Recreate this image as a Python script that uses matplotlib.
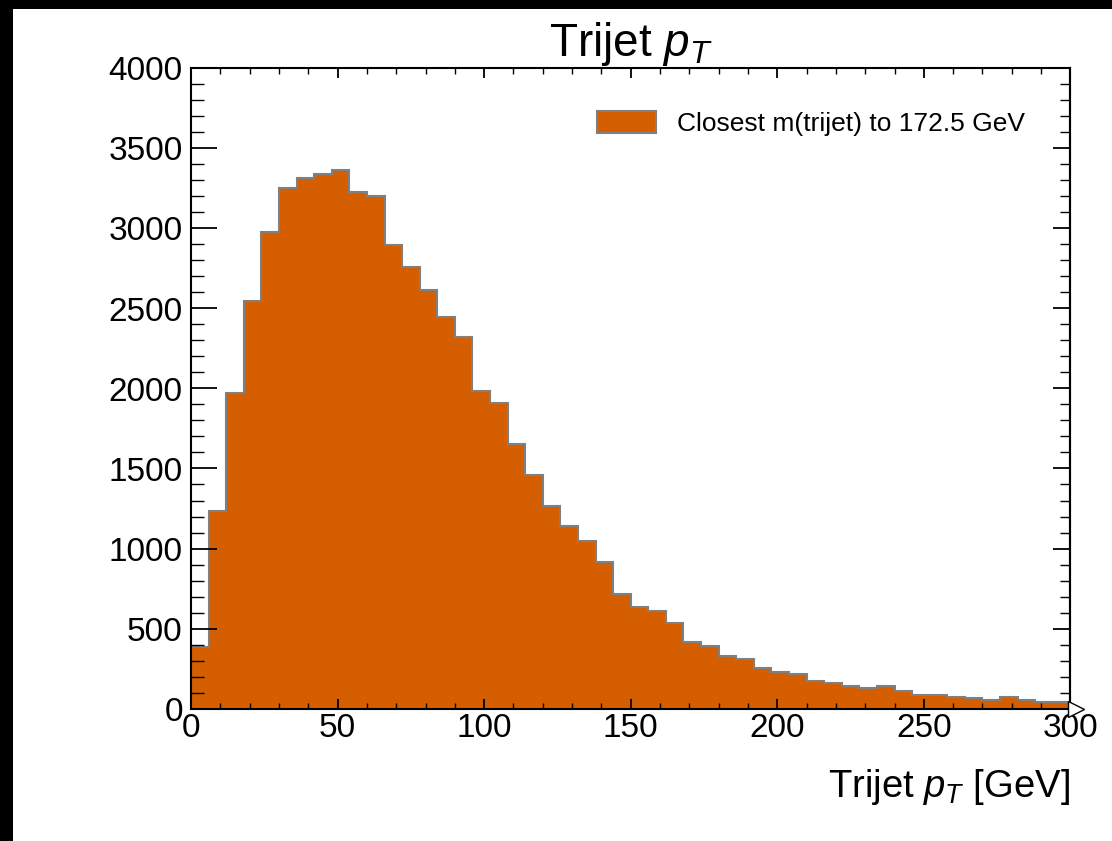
#!/usr/bin/env python3
"""Trijet pT histogram, closest trijet mass to the top mass."""

import numpy as np
import matplotlib
matplotlib.use("Agg")
import matplotlib.pyplot as plt
from matplotlib.patches import Rectangle

plt.rcParams["font.family"] = ["Liberation Sans", "DejaVu Sans"]
plt.rcParams["mathtext.fontset"] = "custom"
plt.rcParams["mathtext.rm"] = "Liberation Sans"
plt.rcParams["mathtext.it"] = "Liberation Sans:italic"

# bin edges in GeV (50 bins of 6 GeV)
bin_lo = 0
bin_hi = 300
bin_width = 6

counts = [
    384, 1232, 1973, 2547, 2973, 3252, 3312, 3337, 3361, 3225,
    3200, 2895, 2759, 2614, 2446, 2321, 1982, 1906, 1654, 1462,
    1263, 1141, 1045, 915, 714, 638, 609, 533, 420, 393,
    333, 314, 254, 233, 218, 173, 164, 141, 133, 144,
    114, 89, 89, 75, 67, 56, 77, 56, 46, 46,
]
label = "Closest m(trijet) to 172.5 GeV"

edges = np.arange(bin_lo, bin_hi + bin_width, bin_width)

fig = plt.figure(figsize=(11.124, 8.414), dpi=100)
ax = fig.add_axes([0.1718, 0.157, 0.7904, 0.7621])

ax.stairs(counts, edges, fill=True, facecolor="#D55E00", edgecolor="#808080",
          linewidth=1.5, label=label)

ax.set_xlim(bin_lo, bin_hi)
ax.set_ylim(0, 4000)
ax.set_xticks(np.arange(0, 301, 50))
ax.set_yticks(np.arange(0, 4001, 500))
ax.set_xticks(np.arange(0, 301, 10), minor=True)
ax.set_yticks(np.arange(0, 4001, 100), minor=True)

for s in ax.spines.values():
    s.set_linewidth(1.5)

ax.tick_params(axis="x", which="major", direction="in", top=True, length=7,
               width=1.3, labelsize=24, pad=3)
ax.tick_params(axis="x", which="minor", direction="in", top=True, length=4,
               width=1.0)
ax.tick_params(axis="y", which="major", direction="in", right=False, length=19,
               width=1.3, labelsize=24, pad=6)
ax.tick_params(axis="y", which="minor", direction="in", right=False, length=9,
               width=1.0)

# right side ticks are shorter in the reference
sec = ax.secondary_yaxis("right")
sec.set_yticks(np.arange(0, 4001, 500))
sec.set_yticks(np.arange(0, 4001, 100), minor=True)
sec.tick_params(which="major", direction="in", length=12, width=1.3,
                labelright=False)
sec.tick_params(which="minor", direction="in", length=7, width=1.0)
sec.spines["right"].set_linewidth(1.5)

# overflow marker at the end of the x axis
ax.plot([edges[-1] + 2], [0], marker=">", markersize=12, markerfacecolor="white",
        markeredgecolor="black", markeredgewidth=1.0, clip_on=False, zorder=5)

ax.set_title("Trijet $p_T$", fontsize=33, pad=4)
ax.set_xlabel("Trijet $p_T$ [GeV]", fontsize=27.5, loc="right", labelpad=16)

ax.legend(loc="upper right", frameon=False, fontsize=19, handlelength=2.2,
          handleheight=0.9, borderaxespad=1.0, bbox_to_anchor=(0.99, 0.99))

# black strips along the top and left edges of the screenshot
fig.add_artist(Rectangle((0, 0), 13 / 1112, 1, transform=fig.transFigure,
                         facecolor="black", edgecolor="none"))
fig.add_artist(Rectangle((0, 1 - 9 / 841), 1, 9 / 841, transform=fig.transFigure,
                         facecolor="black", edgecolor="none"))

fig.savefig("out.png", dpi=100, facecolor="white")
